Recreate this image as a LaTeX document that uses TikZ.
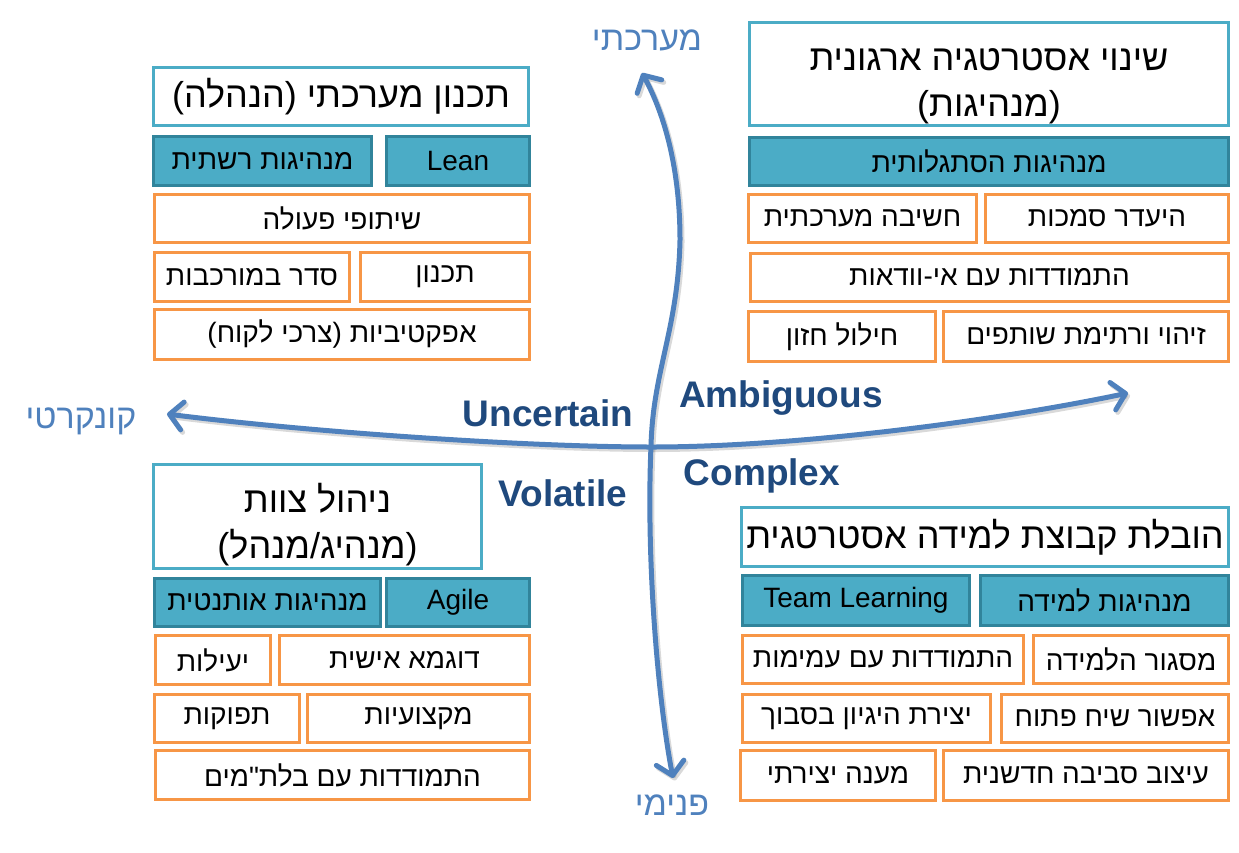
\documentclass[tikz,border=0pt]{standalone}
\usepackage{fontspec}
\setmainfont{Liberation Sans}
\newfontfamily\heb[Script=Hebrew]{Liberation Sans}
\usetikzlibrary{arrows.meta}
\TeXXeTstate=1
\definecolor{tealc}{HTML}{4BACC6}
\definecolor{darkc}{HTML}{31849B}
\definecolor{orangec}{HTML}{F79646}
\definecolor{axisc}{HTML}{4F81BD}
\definecolor{lblc}{HTML}{1F497D}
\newcommand\hebt[1]{\beginR#1\endR}
\newcommand\bodyfont{\heb\fontsize{28}{34}\selectfont}
\newcommand\titlefont{\heb\fontsize{36}{46}\selectfont}
\newcommand\latfont{\normalfont\fontsize{28}{34}\selectfont}
\newcommand\topstrut{\rule{0pt}{46pt}}
\newcommand\qbox[7]{%
  \node[#6, minimum width={#4-#2-3}, minimum height={#5-#3-3}] (#1) at ({(#2+#4)/2},{(#3+#5)/2}) {#7};}
\tikzset{
  basebox/.style={rectangle, inner sep=0pt, line width=3pt, text=black, font=\bodyfont},
  titlebox/.style={basebox, draw=tealc, fill=white, align=center, font=\titlefont},
  darkbox/.style={basebox, draw=darkc, fill=tealc},
  orangebox/.style={basebox, draw=orangec, fill=white},
  axisline/.style={line width=5pt, draw=axisc, line cap=round,
    arrows={Straight Barb[length=13pt,width=28pt,round]-Straight Barb[length=13pt,width=28pt,round]}},
  axisshadow/.style={axisline, draw=black, opacity=0.15},
  vuca/.style={font=\bfseries\fontsize{37}{40}\selectfont, text=lblc, inner sep=0pt},
  axlbl/.style={font=\heb\fontsize{34}{38}\selectfont, text=axisc, inner sep=0pt}
}
\begin{document}
\begin{tikzpicture}[x=1pt,y=-1pt]
\fill[white] (0,0) rectangle (1239,852);
\useasboundingbox (0,0) rectangle (1239,852);

% axis coordinates
\coordinate (vb) at (673,778);
\coordinate (vm) at (651,446);
\coordinate (vk) at (680,240);
\coordinate (vt) at (642,73);
\coordinate (hl) at (167,414);
\coordinate (hm) at (652,447);
\coordinate (hr) at (1128,393);

% shadows of axes
\begin{scope}[transform canvas={xshift=2pt,yshift=-2.5pt}]
\draw[axisshadow] (vb) .. controls (658,700) and (646,560) .. (vm) .. controls (653,370) and (678,330) .. (vk) .. controls (680,170) and (665,115) .. (vt);
\draw[axisshadow] (hl) .. controls (300,431) and (520,447) .. (hm) .. controls (800,447) and (1000,420) .. (hr);
\end{scope}
% axes
\draw[axisline] (vb) .. controls (658,700) and (646,560) .. (vm) .. controls (653,370) and (678,330) .. (vk) .. controls (680,170) and (665,115) .. (vt);
\draw[axisline] (hl) .. controls (300,431) and (520,447) .. (hm) .. controls (800,447) and (1000,420) .. (hr);

% axis labels
\node[axlbl] (top) at (647,40) {\hebt{מערכתי}};
\node[axlbl] (left) at (81,421) {\hebt{קונקרטי}};
\node[axlbl] (bot) at (672,805) {\hebt{פנימי}};

% VUCA labels
\node[vuca] (unc) at (548,413) {Uncertain};
\node[vuca] (amb) at (781,398) {Ambiguous};
\node[vuca] (cpx) at (762,476) {Complex};
\node[vuca] (vol) at (563,493) {Volatile};

% top-left quadrant
\qbox{tl0}{152}{66}{530}{127}{titlebox}{\hebt{תכנון מערכתי (הנהלה)}}
\qbox{tl1a}{152}{135}{373}{187}{darkbox}{\hebt{מנהיגות רשתית}}
\qbox{tl1b}{385}{135}{531}{187}{darkbox, font=\latfont}{Lean}
\qbox{tl2}{153}{193}{531}{244}{orangebox}{\hebt{שיתופי פעולה}}
\qbox{tl3a}{153}{251}{351}{303}{orangebox}{\hebt{סדר במורכבות}}
\qbox{tl3b}{359}{251}{531}{303}{orangebox}{\hebt{תכנון}}
\qbox{tl4}{153}{308}{531}{361}{orangebox}{\hebt{אפקטיביות (צרכי לקוח)}}

% top-right quadrant
\qbox{tr0}{748}{21}{1230}{127}{titlebox}{\topstrut\hebt{שינוי אסטרטגיה ארגונית}\\\hebt{(מנהיגות)}}
\qbox{tr1}{748}{136}{1230}{187}{darkbox}{\hebt{מנהיגות הסתגלותית}}
\qbox{tr2a}{747}{193}{978}{244}{orangebox}{\hebt{חשיבה מערכתית}}
\qbox{tr2b}{984}{193}{1230}{244}{orangebox}{\hebt{היעדר סמכות}}
\qbox{tr3}{749}{252}{1230}{303}{orangebox}{\hebt{התמודדות עם אי-וודאות}}
\qbox{tr4a}{747}{310}{937}{363}{orangebox}{\hebt{חילול חזון}}
\qbox{tr4b}{942}{310}{1230}{363}{orangebox}{\hebt{זיהוי ורתימת שותפים}}

% bottom-left quadrant
\qbox{bl0}{152}{463}{483}{570}{titlebox}{\topstrut\hebt{ניהול צוות}\\\hebt{(מנהיג/מנהל)}}
\qbox{bl1a}{153}{577}{382}{628}{darkbox}{\hebt{מנהיגות אותנטית}}
\qbox{bl1b}{385}{577}{531}{628}{darkbox, font=\latfont}{Agile}
\qbox{bl2a}{154}{634}{272}{686}{orangebox}{\hebt{יעילות}}
\qbox{bl2b}{278}{634}{531}{686}{orangebox}{\hebt{דוגמא אישית}}
\qbox{bl3a}{153}{693}{301}{744}{orangebox}{\hebt{תפוקות}}
\qbox{bl3b}{306}{693}{531}{744}{orangebox}{\hebt{מקצועיות}}
\qbox{bl4}{154}{749}{531}{801}{orangebox}{\hebt{התמודדות עם בלת"מים}}

% bottom-right quadrant
\qbox{br0}{740}{506}{1230}{568}{titlebox}{\hebt{הובלת קבוצת למידה אסטרטגית}}
\qbox{br1a}{741}{574}{971}{627}{darkbox, font=\latfont}{Team Learning}
\qbox{br1b}{979}{574}{1230}{627}{darkbox}{\hebt{מנהיגות למידה}}
\qbox{br2a}{741}{634}{1025}{685}{orangebox}{\hebt{התמודדות עם עמימות}}
\qbox{br2b}{1032}{634}{1230}{685}{orangebox}{\hebt{מסגור הלמידה}}
\qbox{br3a}{741}{693}{992}{744}{orangebox}{\hebt{יצירת היגיון בסבוך}}
\qbox{br3b}{1000}{693}{1230}{744}{orangebox}{\hebt{אפשור שיח פתוח}}
\qbox{br4a}{739}{749}{937}{802}{orangebox}{\hebt{מענה יצירתי}}
\qbox{br4b}{942}{749}{1230}{802}{orangebox}{\hebt{עיצוב סביבה חדשנית}}
\end{tikzpicture}
\end{document}
